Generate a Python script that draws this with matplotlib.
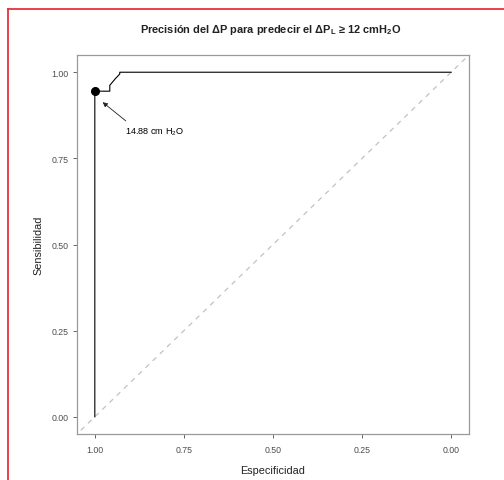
import matplotlib
matplotlib.use("Agg")
import matplotlib.pyplot as plt
from matplotlib.lines import Line2D

plt.rcParams['font.family'] = ['Liberation Sans', 'DejaVu Sans']
plt.rcParams['mathtext.fontset'] = 'custom'
plt.rcParams['mathtext.rm'] = 'Liberation Sans'
plt.rcParams['mathtext.bf'] = 'Liberation Sans:bold'

# ROC curve (specificity, sensitivity)
especificidad = [1.0, 1.0, 0.958, 0.958, 0.941, 0.937, 0.930, 0.930, 0.0]
sensibilidad = [0.0, 0.945, 0.945, 0.962, 0.983, 0.987, 0.995, 1.0, 1.0]

# Optimal cut-off point
corte_esp = 1.0
corte_sens = 0.945
corte_label = "14.88 cm H$_{\\mathrm{2}}$O"

ticks = [1.00, 0.75, 0.50, 0.25, 0.00]
tick_labels = ["1.00", "0.75", "0.50", "0.25", "0.00"]

fig = plt.figure(figsize=(5.04, 4.81), dpi=100)
ax = fig.add_axes([77/504, 1-435/481, (469-77)/504, (435-56)/481])

# chance line, extended past the panel and clipped by it
ax.plot([1.1, -0.1], [-0.1, 1.1], color='#c2c2c2', lw=0.9, ls=(0, (4, 4)), zorder=1)
ax.plot(especificidad, sensibilidad, color='black', lw=0.8, zorder=2)
ax.plot([corte_esp], [corte_sens], 'o', color='black', ms=5.5, zorder=3)

ax.annotate(corte_label, xy=(0.978, 0.913), xytext=(0.914, 0.829),
            fontsize=6.6, va='center', ha='left', color='black',
            arrowprops=dict(arrowstyle='-|>', color='#222222', lw=0.6,
                            mutation_scale=7, shrinkA=2, shrinkB=0,
                            relpos=(0.1, 1.0)))

ax.set_xlim(1.05, -0.05)
ax.set_ylim(-0.05, 1.05)
ax.set_xticks(ticks)
ax.set_xticklabels(tick_labels)
ax.set_yticks(ticks)
ax.set_yticklabels(tick_labels)
ax.tick_params(labelsize=6.3, colors='#4d4d4d', length=3, width=0.6, pad=3)
ax.tick_params(axis='x', pad=5)
for s in ax.spines.values():
    s.set_color('#9a9a9a')
    s.set_linewidth(0.9)

ax.set_xlabel("Especificidad", fontsize=7.8, color='#222222', labelpad=8)
ax.set_ylabel("Sensibilidad", fontsize=7.8, color='#222222', labelpad=6)

fig.text(0.536, 1-30/481,
         "Precisión del ΔP para predecir el ΔP$_{\\mathbf{L}}$ ≥ 12 cmH$_{\\mathbf{2}}$O",
         ha='center', va='center', fontsize=7.9, fontweight='bold', color='#222222')

# red outline along the top and left edges
red = '#e8303a'
fig.add_artist(Line2D([8/504, 8/504], [0, 1-10/481], transform=fig.transFigure,
                      color=red, lw=1.3))
fig.add_artist(Line2D([8/504, 1.0], [1-10/481, 1-10/481], transform=fig.transFigure,
                      color=red, lw=1.3))

fig.savefig("out.png", dpi=100)
